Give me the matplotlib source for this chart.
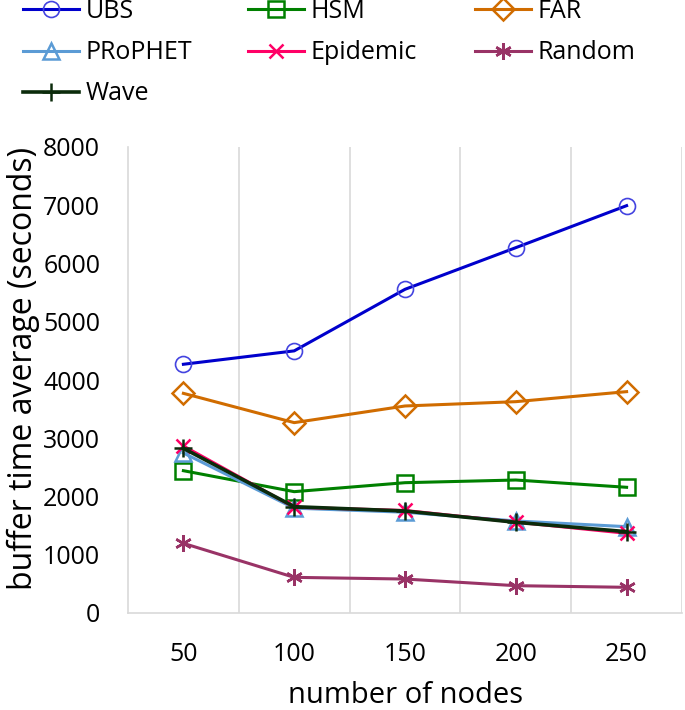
import matplotlib
matplotlib.use("Agg")
import matplotlib.pyplot as plt

nodes = [50, 100, 150, 200, 250]
ubs = [4270, 4500, 5557, 6272, 6993]
hsm = [2443, 2083, 2237, 2283, 2158]
far = [3771, 3268, 3554, 3628, 3800]
prophet = [2747, 1800, 1730, 1580, 1482]
epidemic = [2867, 1815, 1760, 1560, 1368]
random_ = [1196, 612, 583, 469, 441]
wave = [2827, 1825, 1751, 1557, 1396]

plt.rcParams['font.family'] = ['Open Sans', 'DejaVu Sans']

W, H = 685, 710
fig = plt.figure(figsize=(W / 100, H / 100), dpi=100)
L, R, B, T = 128, 682, 613, 147
ax = fig.add_axes([L / W, (H - B) / H, (R - L) / W, (B - T) / H])

x = list(range(len(nodes)))
series = [
    ("UBS", ubs, "#0000CC", "o", "#4444E0", 11.5, 1.2),
    ("HSM", hsm, "#008000", "s", "#008000", 12, 1.8),
    ("FAR", far, "#D06C00", "D", "#D06C00", 11, 1.8),
    ("PRoPHET", prophet, "#5B9BD5", "^", "#5B9BD5", 11, 1.8),
    ("Epidemic", epidemic, "#FF0066", "x", "#FF0066", 10, 1.8),
    ("Random", random_, "#993366", (6, 2, 0), "#993366", 12, 1.8),
    ("Wave", wave, "#0B2B0B", "+", "#0B2B0B", 13, 1.8),
]
handles = []
for name, vals, col, mk, mcol, ms, mew in series:
    lw = 2.6 if name == "Wave" else 2.2
    h, = ax.plot(x, vals, color=col, lw=lw, marker=mk, markersize=ms,
                 markerfacecolor='none', markeredgecolor=mcol, markeredgewidth=mew,
                 label=name)
    handles.append(h)

ax.set_xlim(-0.5, len(nodes) - 0.5)
ax.set_ylim(0, 8000)
ax.set_yticks(range(0, 8001, 1000))
ax.set_xticks(x)
ax.set_xticklabels([str(n) for n in nodes])
for b in [0.5, 1.5, 2.5, 3.5, 4.5]:
    ax.axvline(b, color='#D9D9D9', lw=1.2, zorder=0)
for s in ['top', 'right']:
    ax.spines[s].set_visible(False)
for s in ['left', 'bottom']:
    ax.spines[s].set_color('#D9D9D9')
    ax.spines[s].set_linewidth(1.2)
ax.tick_params(axis='y', length=0, labelsize=18, colors='#000000', pad=20)
ax.tick_params(axis='x', length=0, labelsize=18, colors='#000000', pad=21)
ax.set_xlabel("number of nodes", fontsize=21, labelpad=10)
ax.set_ylabel("buffer time average (seconds)", fontsize=23)
ax.yaxis.set_label_coords(-0.158, 0.524)

# legend: three columns placed explicitly, row-major order
cols = [[0, 3, 6], [1, 4], [2, 5]]
col_x = [23, 248, 475]
for xs, idx in zip(col_x, cols):
    fig.legend(handles=[handles[i] for i in idx], loc='upper left',
               bbox_to_anchor=(xs / W, 1.0 + 1 / H), frameon=False,
               fontsize=18, handlelength=2.25, handletextpad=0.25,
               labelspacing=0.65, borderpad=0, borderaxespad=0)

fig.savefig("out.png", dpi=100)
